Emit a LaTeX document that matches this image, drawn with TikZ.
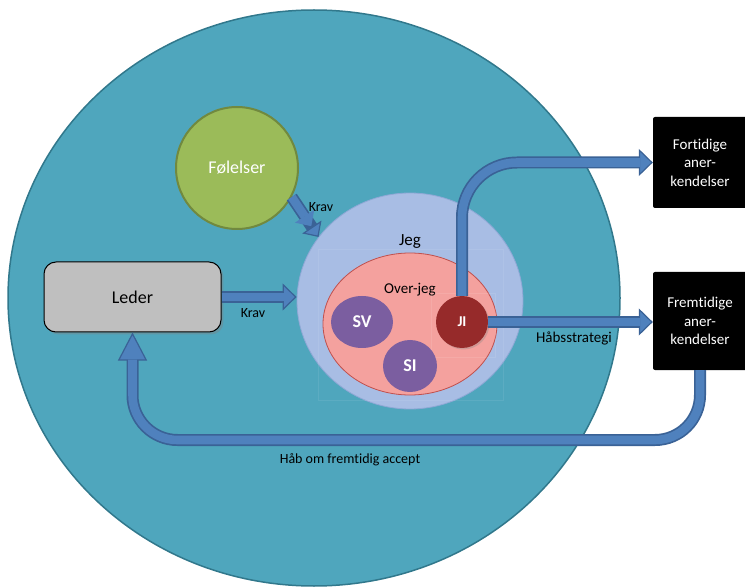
\documentclass[tikz,border=0pt]{standalone}
\usepackage{fontspec}
\setmainfont{Carlito}[Ligatures=NoCommon]
\usepackage{tikz}
\usetikzlibrary{arrows.meta,positioning,calc,shadows,shapes.geometric}

\definecolor{selvteal}{HTML}{4FA6BD}
\definecolor{tealedge}{HTML}{31788C}
\definecolor{feelgreen}{HTML}{9BBB59}
\definecolor{greenedge}{HTML}{71893F}
\definecolor{jegblue}{HTML}{A8BDE4}
\definecolor{jegedge}{HTML}{8FA8D6}
\definecolor{overpink}{HTML}{F4A19E}
\definecolor{pinkedge}{HTML}{C0504D}
\definecolor{delpurple}{HTML}{7B5EA0}
\definecolor{jired}{HTML}{962A2A}
\definecolor{arrowblue}{HTML}{4F81BD}
\definecolor{arrowedge}{HTML}{3A6296}
\definecolor{ledergray}{HTML}{BFBFBF}

\newcommand{\fs}[1]{\fontsize{#1}{#1}\selectfont}
\newcommand{\blockarrow}[2][]{\draw[bigarrow,#1] #2; \draw[bigshaft,#1] #2;}

\begin{document}
\begin{tikzpicture}[x=1pt,y=-1pt,
	every node/.style={font=\fs{14}},
	blob/.style={ellipse, inner sep=0pt},
	bigarrow/.style={draw=arrowedge, line width=12pt, -{Triangle[length=14pt,width=27pt,fill=arrowblue,line width=1.2pt]}},
	bigshaft/.style={draw=arrowblue, line width=8.6pt, shorten >=13pt},
	blackbox/.style={fill=black, rounded corners=2pt, minimum width=94pt, text=white, align=center, font=\fontsize{15}{18.5}\selectfont}]
	\useasboundingbox (0,0) rectangle (745,588);

	\node[blob, fill=selvteal, draw=tealedge, line width=1.5pt, minimum width=612pt, minimum height=576pt] (selv) at (314,298) {};
	\node[circle, fill=feelgreen, draw=greenedge, line width=2pt, minimum size=122pt, text=white, font=\fs{18}] (folelser) at (237,168) {Følelser};
	\node[blob, fill=jegblue, draw=jegedge, line width=0.8pt, minimum width=226pt, minimum height=216pt] (jeg) at (410,301) {};
	\node[font=\fs{17}] (jegtext) at (410,242) {Jeg};
	\draw[white, opacity=0.08] (318,249) rectangle (503,400);
	\node[blob, fill=overpink, draw=pinkedge, line width=0.8pt, minimum width=174pt, minimum height=142pt] (overjeg) at (410,324) {};
	\node[font=\fs{15}] (overtext) at (410,290) {Over-jeg};
	\draw[white, opacity=0.1] (431,293) rectangle (495,357);
	\node[blob, fill=delpurple, minimum width=62pt, minimum height=52pt, text=white, font=\bfseries\fs{18}] (sv) at (362,322) {SV};
	\node[blob, fill=delpurple, minimum width=54pt, minimum height=52pt, text=white, font=\bfseries\fs{18}] (si) at (410,366) {SI};
	\node[circle, fill=jired, minimum size=52pt, inner sep=0pt, text=white, font=\bfseries\fs{15}, drop shadow={opacity=0.3,shadow xshift=1.5pt,shadow yshift=-1.5pt}] (ji) at (462,322) {JI};

	\node[draw=black, fill=ledergray, rounded corners=12pt, minimum width=177pt, minimum height=70pt, line width=1pt, font=\fs{18}, drop shadow={opacity=0.4}] (leder) at (132.5,297) {Leder};

	\node[blackbox, minimum height=91pt] (fortid) at (700,162.5) {Fortidige\\aner-\\kendelser};
	\node[blackbox, minimum height=98pt] (fremtid) at (700,321) {Fremtidige\\aner-\\kendelser};

	\coordinate (habline) at (400,440);

	\blockarrow{(leder.east) -- (leder.east -| jeg.west)}
	\node (krav1) at (253,313) {Krav};
	\blockarrow[-{Triangle[length=12pt,width=23pt,fill=arrowblue,line width=1.2pt]}]{(folelser.-28) -- (jeg.145)}
	\node (krav2) at (321,207) {Krav};
	\blockarrow[rounded corners=55pt]{(ji.north) |- (fortid.west)}
	\blockarrow{(ji.east) -- (ji.east -| fremtid.west)}
	\node[font=\fs{15}] (strategi) at (574,338) {Håbsstrategi};
	% long head back to Leder
	\draw[bigarrow, rounded corners=45pt, -{Triangle[length=28pt,width=29pt,fill=arrowblue,line width=1.2pt]}] (fremtid.south) |- (habline) -| (leder.south);
	\draw[bigshaft, rounded corners=45pt, shorten >=27pt] (fremtid.south) |- (habline) -| (leder.south);
	\node (habtext) at (350,460) {Håb om fremtidig accept};
\end{tikzpicture}
\end{document}
